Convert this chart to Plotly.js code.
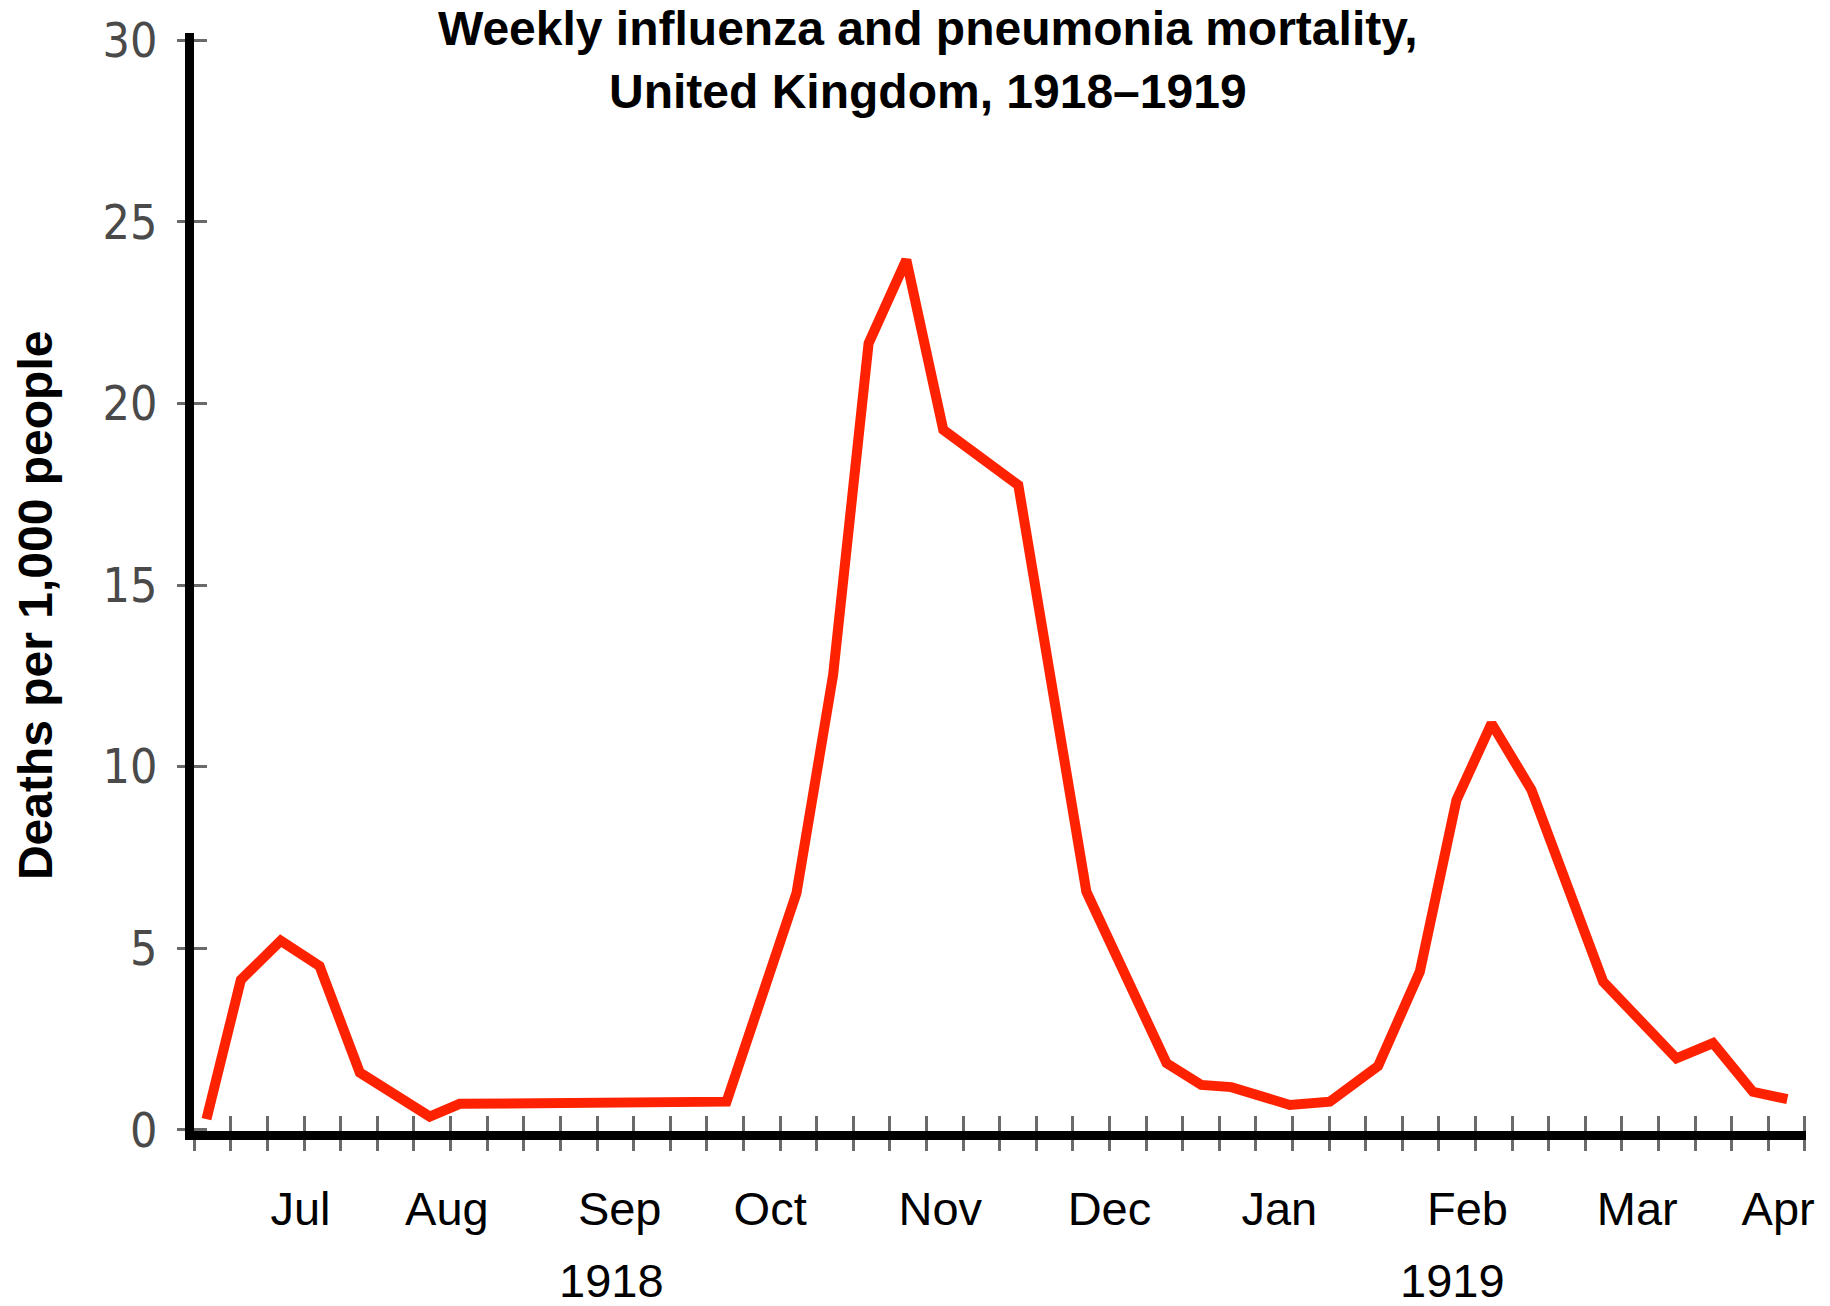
<!DOCTYPE html>
<html>
<head>
<meta charset="utf-8">
<script src="https://cdn.plot.ly/plotly-3.0.1.min.js"></script>
<style>html,body{margin:0;padding:0;background:#fff;}</style>
</head>
<body>
<div id="chart" style="width:1830px;height:1306px;"></div>
<script>
// Weeks counted from the first weekly tick of the chart (late June 1918)
const weeks = [0.33, 1.27, 2.36, 3.42, 4.52, 6.43, 7.25, 14.54, 16.45, 17.45, 18.42, 19.45, 20.46, 22.51,
               24.37, 26.56, 27.51, 28.33, 29.93, 31.02, 32.34, 33.48, 34.48, 35.44, 36.53, 38.49, 40.49,
               41.49, 42.58, 43.52];
// Deaths per 1,000 people
const deaths = [0.3, 4.13, 5.21, 4.51, 1.58, 0.37, 0.72, 0.78, 6.52, 12.52, 21.65, 23.95, 19.27, 17.75,
                6.56, 1.84, 1.24, 1.18, 0.69, 0.78, 1.76, 4.36, 9.08, 11.19, 9.36, 4.08, 1.97,
                2.39, 1.05, 0.85];
const monthPos = [2.90, 6.90, 11.62, 15.73, 20.38, 25.00, 29.64, 34.78, 39.42, 43.27];
const monthLabels = ['Jul', 'Aug', 'Sep', 'Oct', 'Nov', 'Dec', 'Jan', 'Feb', 'Mar', 'Apr'];
const yearPos = [11.39, 34.36];
const yearLabels = ['1918', '1919'];
const yTicks = [0, 5, 10, 15, 20, 25, 30];

const titleText = 'Weekly influenza and pneumonia mortality,<br>United Kingdom, 1918–1919';
const yTitle = 'Deaths per 1,000 people';

const xRange = [-0.01, 44.03];
const yRange = [-0.028, 30.195];
const FONT = 'Liberation Sans, Arial, Helvetica, sans-serif';
const TICKFONT = 'Liberation Sans Narrow, Arial Narrow, DejaVu Sans Condensed, Liberation Sans, sans-serif';
const tickGray = '#6a6a6a';

const traces = [
  {
    x: weeks, y: deaths, type: 'scatter', mode: 'lines',
    line: {color: '#ff2200', width: 10, shape: 'linear'},
    hoverinfo: 'x+y', showlegend: false
  },
  {
    x: weeks, y: deaths, type: 'scatter', mode: 'lines',
    xaxis: 'x2', yaxis: 'y2', opacity: 0,
    line: {width: 0}, hoverinfo: 'skip', showlegend: false
  }
];

const layout = {
  width: 1830, height: 1306,
  margin: {l: 194, r: 24, t: 33, b: 175, autoexpand: false},
  paper_bgcolor: '#ffffff', plot_bgcolor: '#ffffff',
  showlegend: false,
  title: {
    text: titleText,
    font: {family: FONT, size: 48, color: '#000', weight: 'bold'},
    xref: 'container', x: 0.507, xanchor: 'center',
    yref: 'container', y: 0.9652, yanchor: 'top',
    pad: {t: 0, b: 0}
  },
  xaxis: {
    range: xRange, showgrid: false, zeroline: false,
    showline: true, linecolor: '#000', linewidth: 9,
    tickmode: 'array', tickvals: monthPos, ticktext: monthLabels,
    ticks: '', ticklabelstandoff: 29,
    tickfont: {family: FONT, size: 47, color: '#000'},
    minor: {tickmode: 'linear', tick0: 0, dtick: 1, ticks: 'outside', ticklen: 11, tickwidth: 3, tickcolor: tickGray, showgrid: false},
    fixedrange: true
  },
  xaxis2: {
    range: xRange, overlaying: 'x', anchor: 'y2', side: 'bottom',
    showgrid: false, zeroline: false, showline: false,
    tickmode: 'linear', tick0: 0, dtick: 1, ticks: 'inside', ticklen: 15, tickwidth: 3, tickcolor: tickGray,
    showticklabels: false, fixedrange: true
  },
  yaxis: {
    range: yRange, showgrid: false, zeroline: false,
    showline: true, linecolor: '#000', linewidth: 9,
    tickmode: 'array', tickvals: yTicks,
    ticks: 'outside', ticklen: 8, tickwidth: 3, tickcolor: tickGray,
    ticklabelstandoff: 10,
    tickfont: {family: TICKFONT, size: 48, color: '#4a4a4a'},
    fixedrange: true
  },
  yaxis2: {
    range: yRange, overlaying: 'y', anchor: 'x2', side: 'left',
    showgrid: false, zeroline: false, showline: false,
    tickmode: 'array', tickvals: yTicks,
    ticks: 'inside', ticklen: 13, tickwidth: 3, tickcolor: tickGray,
    showticklabels: false, fixedrange: true
  },
  annotations: yearLabels.map((t, i) => ({
    text: t, x: yearPos[i], xref: 'x', y: -0.1366, yref: 'paper',
    xanchor: 'center', yanchor: 'middle', showarrow: false,
    font: {family: FONT, size: 47, color: '#000'}
  })).concat([{
    text: yTitle, textangle: -90,
    x: -0.0986, xref: 'paper', y: 0.479, yref: 'paper',
    xanchor: 'center', yanchor: 'middle', showarrow: false,
    font: {family: FONT, size: 48, color: '#000', weight: 'bold'}
  }])
};

Plotly.newPlot('chart', traces, layout, {displayModeBar: false, staticPlot: true});
</script>
</body>
</html>
